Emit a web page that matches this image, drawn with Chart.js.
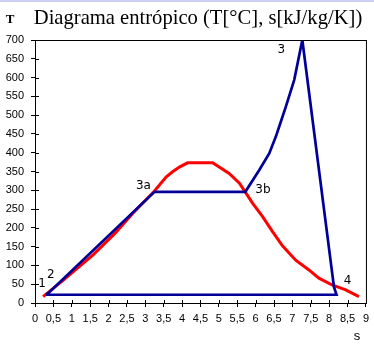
<!DOCTYPE html>
<html>
<head>
<meta charset="utf-8">
<script src="https://cdn.jsdelivr.net/npm/chart.js@4"></script>
<style>
  html, body { margin: 0; padding: 0; background: #fff; }
  canvas { display: block; }
</style>
</head>
<body>
<canvas id="tsChart" width="374" height="345"></canvas>
<script>
// saturation dome (s, T)
const domeS = [0.22, 0.77, 1.58, 2.2, 2.66, 3.25, 3.57, 3.75, 3.95, 4.15, 4.83, 5.28, 5.56, 5.72, 5.92, 6.19, 6.46, 6.73, 7.09, 7.45, 7.72, 8.08, 8.45, 8.81];
const domeT = [17, 61, 128, 188, 239, 298, 336, 350, 363, 373, 373, 345, 319, 295, 265, 230, 190, 152, 114, 88, 66, 48, 35, 17];

// cycle 1-2-3a-3b-3-4-1
const cycleS = [0.3, 0.36, 3.25, 5.72, 6.10, 6.37, 6.55, 6.64, 6.82, 7.05, 7.27, 8.13, 8.2, 0.3];
const cycleT = [22, 26, 296, 296, 354, 398, 443, 469, 522, 594, 700, 43, 22, 22];

// state point labels
const pointNames = ['1', '2', '3a', '3b', '3', '4'];
const pointS = [0.19, 0.43, 2.95, 6.2, 6.7, 8.5];
const pointT = [52, 76, 312, 300, 675, 60];

const xTicks = [0, 9, 0.5];   // min, max, step
const yTicks = [0, 700, 50];

const toPts = (xs, ys) => xs.map((x, i) => ({ x: x, y: ys[i] }));

const decorations = {
  id: 'decorations',
  afterDraw(chart) {
    const ctx = chart.ctx;
    const a = chart.chartArea;
    const xs = chart.scales.x, ys = chart.scales.y;
    ctx.save();
    // top strip
    ctx.fillStyle = '#cfcff5';
    ctx.fillRect(0, 0, chart.width, 2);
    // frame
    ctx.strokeStyle = '#000';
    ctx.lineWidth = 1;
    ctx.strokeRect(a.left + 0.5, a.top + 0.5, a.right - a.left, a.bottom - a.top);
    // inward ticks
    ctx.beginPath();
    xs.ticks.forEach(t => {
      const px = Math.round(xs.getPixelForValue(t.value)) + 0.5;
      ctx.moveTo(px, a.bottom); ctx.lineTo(px, a.bottom - 3);
    });
    ys.ticks.forEach(t => {
      const py = Math.round(ys.getPixelForValue(t.value)) + 0.5;
      ctx.moveTo(a.left, py); ctx.lineTo(a.left + 4, py);
    });
    ctx.stroke();
    // title
    ctx.fillStyle = '#000';
    ctx.textBaseline = 'alphabetic';
    ctx.textAlign = 'center';
    ctx.font = '20.6px "Liberation Serif", "Times New Roman", serif';
    ctx.fillText('Diagrama entrópico (T[°C], s[kJ/kg/K])', 198, 24);
    ctx.font = 'bold 13px "Liberation Serif", serif';
    ctx.fillText('T', 10, 23);
    ctx.font = '13px "Liberation Sans", Arial, sans-serif';
    ctx.fillText('s', 357, 340);
    // point labels
    ctx.font = '12px "DejaVu Sans", sans-serif';
    ctx.textBaseline = 'middle';
    pointNames.forEach((n, i) => {
      ctx.fillText(n, xs.getPixelForValue(pointS[i]), ys.getPixelForValue(pointT[i]));
    });
    ctx.restore();
  }
};

new Chart(document.getElementById('tsChart'), {
  type: 'scatter',
  data: {
    datasets: [
      {
        label: 'Ciclo',
        data: toPts(cycleS, cycleT),
        showLine: true,
        borderColor: '#000099',
        borderWidth: 2.7,
        pointRadius: 0,
        tension: 0,
        order: 0
      },
      {
        label: 'Campana',
        data: toPts(domeS, domeT),
        showLine: true,
        borderColor: '#ff0000',
        borderWidth: 3,
        pointRadius: 0,
        tension: 0,
        order: 1
      }
    ]
  },
  options: {
    responsive: false,
    animation: false,
    layout: { padding: { top: 40, right: 7, left: 0, bottom: 0 } },
    plugins: {
      legend: { display: false },
      tooltip: { enabled: false }
    },
    scales: {
      x: {
        type: 'linear',
        min: xTicks[0], max: xTicks[1],
        afterFit: s => { s.height = 42; },
        border: { color: '#000', width: 1 },
        grid: { drawOnChartArea: false, color: '#000', tickLength: 4 },
        ticks: {
          stepSize: xTicks[2],
          autoSkip: false,
          maxRotation: 0,
          padding: 5,
          color: '#000',
          font: { family: '"Liberation Sans", Arial, sans-serif', size: 11 },
          callback: v => String(v).replace('.', ',')
        }
      },
      y: {
        type: 'linear',
        min: yTicks[0], max: yTicks[1],
        afterFit: s => { s.width = 35; },
        border: { color: '#000', width: 1 },
        grid: { drawOnChartArea: false, color: '#000', tickLength: 4 },
        ticks: {
          stepSize: yTicks[2],
          autoSkip: false,
          padding: 7,
          color: '#000',
          font: { family: '"Liberation Sans", Arial, sans-serif', size: 11 }
        }
      }
    }
  },
  plugins: [decorations]
});
</script>
</body>
</html>
